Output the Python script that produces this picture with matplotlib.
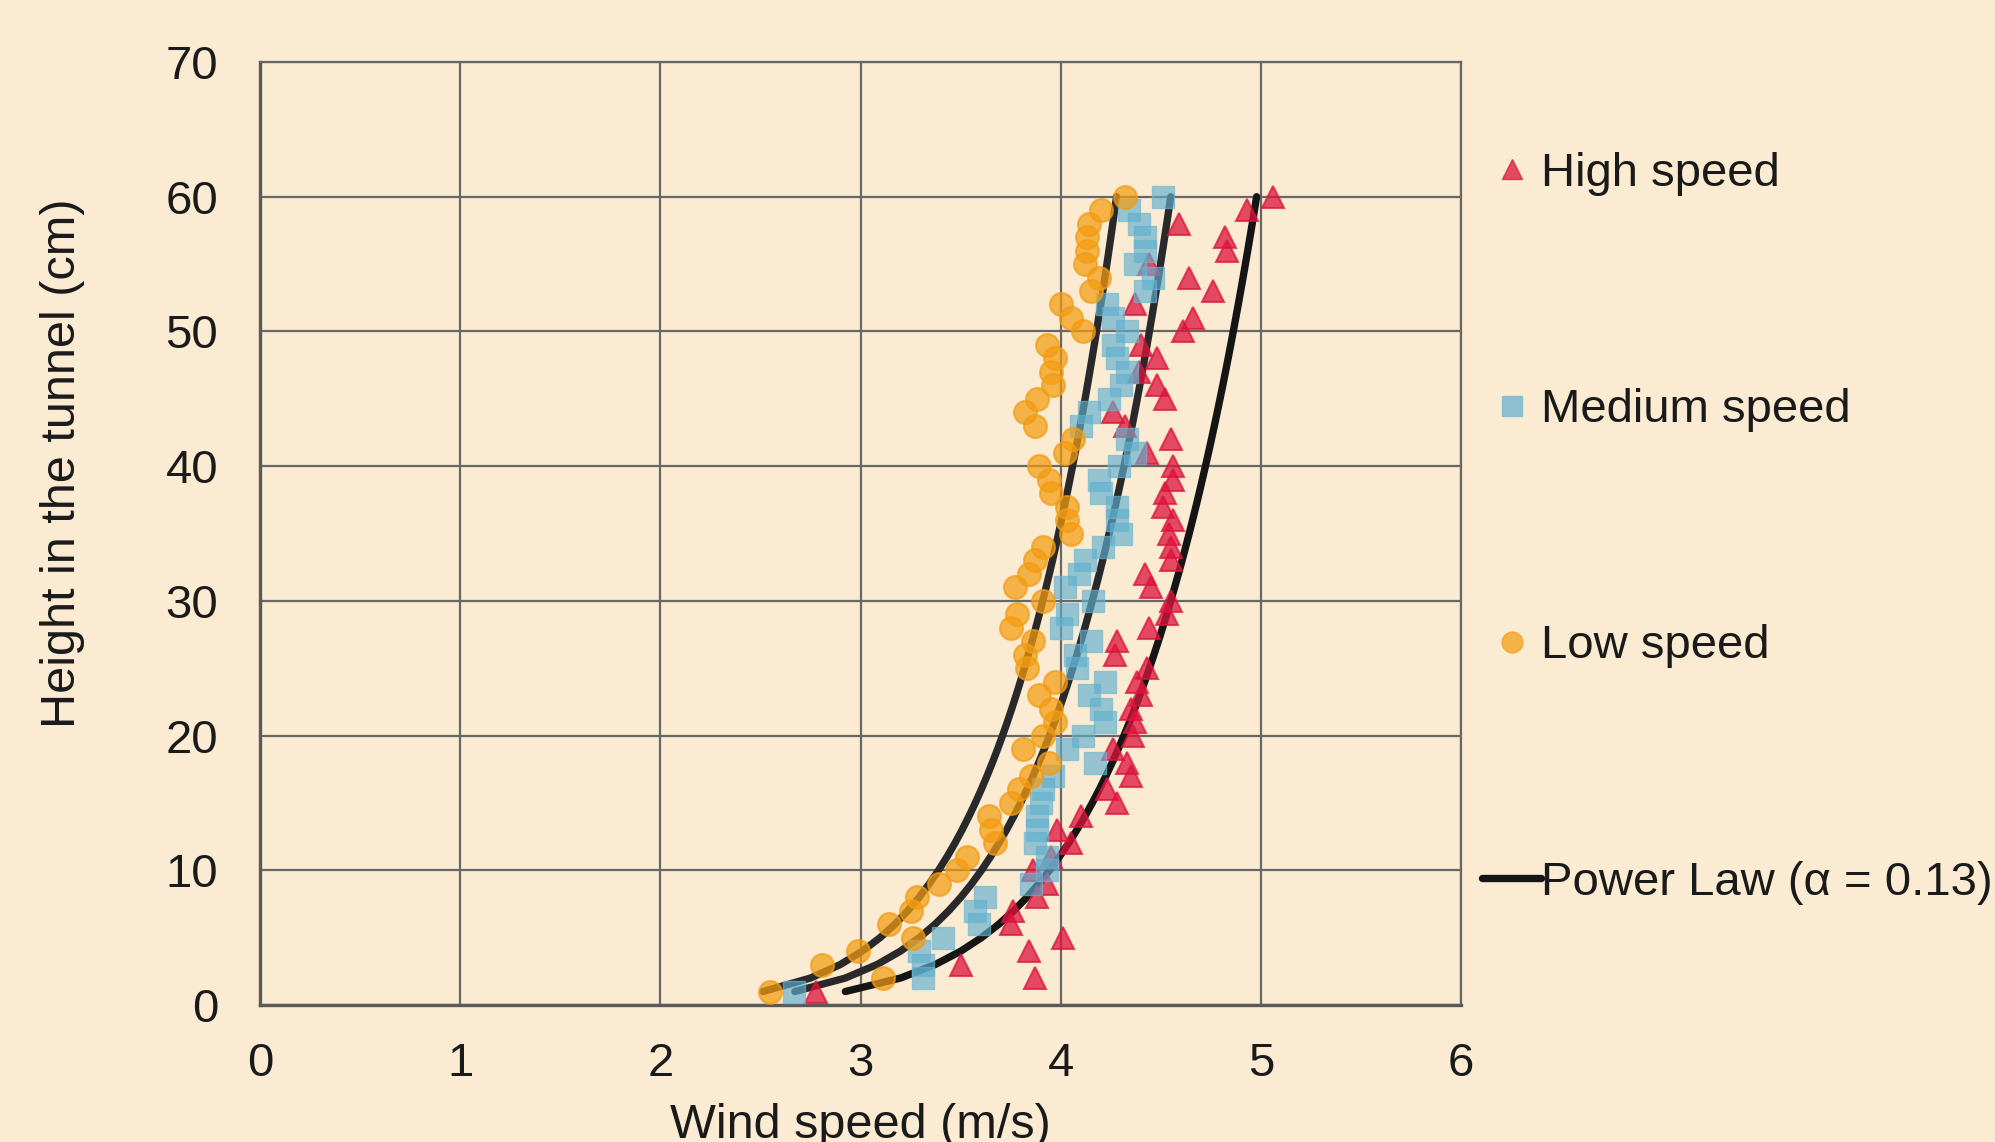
import numpy as np
import matplotlib
matplotlib.use("Agg")
import matplotlib.pyplot as plt
from matplotlib.lines import Line2D

# ---------------- data ----------------
heights = [1, 2, 3, 4, 5, 6, 7, 8, 9, 10, 11, 12, 13, 14, 15, 16, 17, 18, 19, 20,
           21, 22, 23, 24, 25, 26, 27, 28, 29, 30, 31, 32, 33, 34, 35, 36, 37, 38, 39, 40,
           41, 42, 43, 44, 45, 46, 47, 48, 49, 50, 51, 52, 53, 54, 55, 56, 57, 58, 59, 60]

high_speed = [2.78, 3.87, 3.50, 3.84, 4.01, 3.75, 3.76, 3.88, 3.93, 3.86,
              3.95, 4.05, 3.98, 4.10, 4.28, 4.23, 4.35, 4.33, 4.26, 4.36,
              4.37, 4.35, 4.40, 4.38, 4.43, 4.27, 4.28, 4.44, 4.53, 4.55,
              4.45, 4.42, 4.55, 4.55, 4.54, 4.56, 4.51, 4.52, 4.56, 4.56,
              4.43, 4.55, 4.32, 4.26, 4.52, 4.48, 4.39, 4.48, 4.40, 4.61,
              4.66, 4.37, 4.76, 4.64, 4.44, 4.83, 4.82, 4.59, 4.93, 5.06]

medium_speed = [2.67, 3.31, 3.31, 3.29, 3.41, 3.59, 3.57, 3.62, 3.85, 3.93,
                3.93, 3.87, 3.88, 3.88, 3.90, 3.91, 3.96, 4.17, 4.03, 4.11,
                4.22, 4.20, 4.14, 4.22, 4.08, 4.07, 4.15, 4.00, 4.03, 4.16,
                4.02, 4.09, 4.12, 4.21, 4.30, 4.28, 4.28, 4.20, 4.19, 4.29,
                4.37, 4.33, 4.10, 4.14, 4.24, 4.30, 4.33, 4.28, 4.26, 4.33,
                4.26, 4.23, 4.42, 4.46, 4.37, 4.42, 4.42, 4.39, 4.34, 4.51]

low_speed = [2.55, 3.11, 2.81, 2.99, 3.26, 3.14, 3.25, 3.28, 3.39, 3.48,
             3.53, 3.67, 3.65, 3.64, 3.75, 3.79, 3.85, 3.94, 3.81, 3.91,
             3.97, 3.95, 3.89, 3.97, 3.83, 3.82, 3.86, 3.75, 3.78, 3.91,
             3.77, 3.84, 3.87, 3.91, 4.05, 4.03, 4.03, 3.95, 3.94, 3.89,
             4.02, 4.06, 3.87, 3.82, 3.88, 3.96, 3.95, 3.97, 3.93, 4.11,
             4.05, 4.00, 4.15, 4.19, 4.12, 4.13, 4.13, 4.14, 4.20, 4.32]

# power law fits: u(h) = u1 * (h / 1 cm) ** alpha
alpha_exp = 0.13
u_ref_low, u_ref_medium, u_ref_high = 2.513, 2.672, 2.924

x_ticks = [0, 1, 2, 3, 4, 5, 6]
y_ticks = [0, 10, 20, 30, 40, 50, 60, 70]

# ---------------- style ----------------
plt.rcParams['font.family'] = ['Liberation Sans', 'DejaVu Sans']
BG = '#FAEBD2'
GRID = '#676767'
TXT = '#1a1a1a'

fig = plt.figure(figsize=(19.95, 11.42), dpi=100, facecolor=BG)
ax = fig.add_axes([260 / 1995, 1 - 1005 / 1142, 1201 / 1995, 943 / 1142])
ax.set_facecolor(BG)

h_arr = np.array(heights, dtype=float)
line_kw = dict(lw=5.3, solid_capstyle='round', zorder=3)
ax.plot(u_ref_low * h_arr ** alpha_exp, h_arr, color='#29292b', **line_kw)
ax.plot(u_ref_medium * h_arr ** alpha_exp, h_arr, color='#29292b', **line_kw)
ax.plot(u_ref_high * h_arr ** alpha_exp, h_arr, color='#151515', **line_kw)

ax.plot(high_speed, heights, ls='none', marker='^', ms=15.5, color='#DC143C',
        mec='#DC143C', mew=1.5, alpha=0.75, zorder=4)
ax.plot(medium_speed, heights, ls='none', marker='s', ms=16.5, color='#5FAFCF',
        mec='#6FB5D2', mew=1.0, alpha=0.65, zorder=4)
ax.plot(low_speed, heights, ls='none', marker='o', ms=16.5, color='#F39C12',
        mec='#F39C12', mew=1.5, alpha=0.72, zorder=4)

ax.set_xlim(0, 6)
ax.set_ylim(0, 70)
ax.set_xticks(x_ticks)
ax.set_yticks(y_ticks)
ax.tick_params(length=0, labelsize=34, colors=TXT)
ax.tick_params(axis='y', pad=30)
ax.tick_params(axis='x', pad=27)
ax.grid(True, color=GRID, lw=1.6, zorder=1)
ax.set_axisbelow(True)
for s in ['top', 'right']:
    ax.spines[s].set_color(GRID)
    ax.spines[s].set_linewidth(1.6)
for s in ['left', 'bottom']:
    ax.spines[s].set_color('#5a5a5a')
    ax.spines[s].set_linewidth(2.4)

fig.text(63 / 1995, 1 - 463 / 1142, 'Height in the tunnel (cm)', rotation=90,
         ha='center', va='center', fontsize=35, color=TXT)
fig.text(860 / 1995, 1 - 1103 / 1142, 'Wind speed (m/s)', ha='center', va='top',
         fontsize=35, color=TXT)

handles = [
    Line2D([], [], ls='none', marker='^', ms=15, color='#DC143C', mec='#DC143C', alpha=0.75),
    Line2D([], [], ls='none', marker='s', ms=15, color='#5FAFCF', mec='#6FB5D2', alpha=0.7),
    Line2D([], [], ls='none', marker='o', ms=15, color='#F39C12', mec='#F39C12', alpha=0.72),
    Line2D([], [], color='#151515', lw=5.3, solid_capstyle='round'),
]
labels = ['High speed', 'Medium speed', 'Low speed', 'Power Law (α = 0.13)']
leg = fig.legend(handles, labels,
                 loc='upper left', bbox_to_anchor=(1482 / 1995, 1 - 152 / 1142),
                 frameon=False, fontsize=34, labelspacing=4.07, handlelength=1.25,
                 handletextpad=0.0, borderpad=0, borderaxespad=0, labelcolor=TXT)

fig.savefig('out.png', dpi=100, facecolor=BG)
